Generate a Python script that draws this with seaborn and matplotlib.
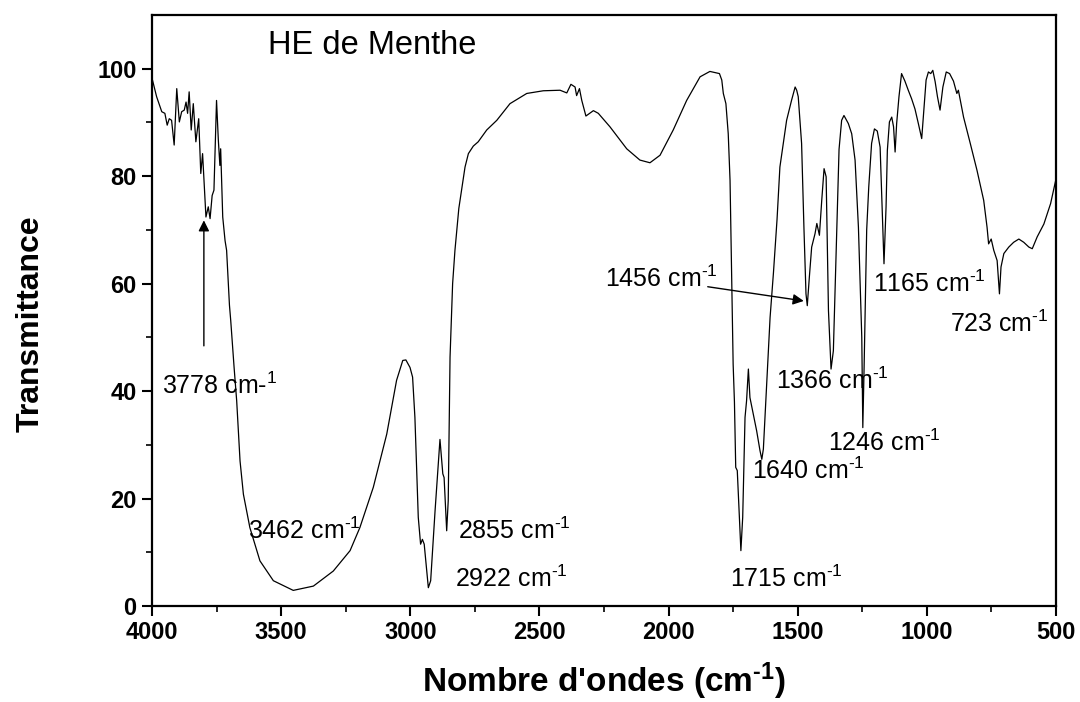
import matplotlib
matplotlib.use("Agg")
import matplotlib.pyplot as plt
import seaborn as sns
import pandas as pd

wavenumber = [3998, 3982, 3962, 3950, 3941, 3933, 3924, 3914, 3904, 3894, 3885, 3875, 3868, 3862, 3856,
              3848, 3840, 3830, 3819, 3811, 3804, 3791, 3782, 3775, 3767, 3760, 3750, 3743, 3737, 3734,
              3726, 3717, 3711, 3700, 3695, 3682, 3672, 3659, 3646, 3621, 3582, 3530, 3453, 3375, 3298,
              3233, 3195, 3143, 3091, 3053, 3029, 3017, 3001, 2991, 2982, 2969, 2960, 2953, 2946, 2930,
              2921, 2904, 2885, 2874, 2869, 2859, 2853, 2846, 2836, 2827, 2812, 2788, 2775, 2756, 2737,
              2704, 2665, 2614, 2549, 2485, 2420, 2394, 2378, 2362, 2356, 2345, 2336, 2320, 2291, 2272,
              2227, 2162, 2111, 2072, 2033, 1982, 1930, 1878, 1840, 1803, 1794, 1788, 1778, 1769, 1762,
              1756, 1750, 1745, 1740, 1734, 1726, 1720, 1713, 1704, 1698, 1691, 1685, 1672, 1659, 1646,
              1639, 1633, 1620, 1607, 1594, 1580, 1569, 1543, 1524, 1510, 1504, 1498, 1485, 1476, 1468,
              1463, 1455, 1446, 1433, 1426, 1416, 1407, 1398, 1390, 1381, 1371, 1362, 1349, 1340, 1330,
              1321, 1304, 1291, 1278, 1265, 1252, 1248, 1243, 1233, 1225, 1214, 1203, 1192, 1181, 1175,
              1166, 1158, 1153, 1145, 1136, 1129, 1123, 1117, 1108, 1098, 1085, 1072, 1059, 1046, 1033,
              1020, 1011, 1003, 994, 985, 977, 968, 959, 949, 938, 925, 912, 897, 884, 878,
              858, 832, 806, 780, 767, 761, 751, 741, 728, 719, 713, 702, 683, 664, 644,
              625, 605, 592, 573, 547, 521, 500]
transmittance = [97.9, 94.8, 92.0, 91.7, 89.5, 90.7, 90.4, 85.8, 96.3, 90.1, 92.0, 92.3, 93.8, 91.7, 95.7,
                 88.6, 93.5, 86.4, 90.7, 80.5, 84.2, 72.4, 74.3, 72.1, 76.4, 77.4, 94.1, 86.7, 82.0, 85.1,
                 72.4, 68.0, 66.2, 56.0, 53.1, 44.4, 38.2, 27.0, 20.8, 14.6, 8.4, 4.7, 2.9, 3.7, 6.5,
                 10.3, 14.6, 22.1, 32.0, 42.0, 45.7, 45.8, 44.4, 42.6, 35.1, 16.5, 11.5, 12.4, 11.5, 3.4,
                 4.7, 17.7, 31.0, 24.6, 23.9, 14.0, 19.6, 46.3, 60.0, 66.2, 74.0, 81.7, 84.2, 85.6, 86.4,
                 88.6, 90.4, 93.5, 95.4, 95.9, 96.0, 95.5, 97.1, 96.6, 95.0, 96.3, 94.1, 91.2, 92.2, 91.7,
                 89.2, 85.1, 83.0, 82.5, 83.9, 88.6, 94.1, 98.5, 99.5, 99.1, 97.9, 95.4, 93.5, 87.9, 79.2,
                 62.0, 45.0, 38.0, 25.8, 25.2, 16.5, 10.3, 16.5, 35.1, 38.2, 44.1, 38.8, 35.7, 32.6, 28.9,
                 27.3, 29.2, 41.3, 53.7, 62.0, 72.0, 81.7, 90.4, 94.1, 96.6, 96.0, 94.8, 86.1, 70.5, 58.1,
                 55.9, 61.2, 66.8, 69.3, 71.2, 69.0, 75.5, 81.4, 79.9, 55.0, 44.1, 47.5, 70.0, 85.0, 90.4,
                 91.3, 89.8, 87.9, 83.0, 70.5, 50.0, 33.2, 44.4, 70.0, 78.0, 86.1, 88.8, 88.4, 85.4, 76.7,
                 63.7, 74.3, 84.8, 90.1, 91.0, 89.2, 84.5, 89.8, 94.8, 99.1, 97.7, 96.0, 94.4, 92.5, 89.8,
                 87.0, 92.9, 97.9, 99.4, 99.1, 99.7, 97.6, 94.8, 92.3, 96.6, 99.4, 99.1, 97.7, 95.4, 96.0,
                 91.0, 86.1, 81.1, 75.5, 70.5, 67.4, 68.3, 66.2, 64.3, 58.1, 63.1, 65.6, 66.8, 67.7, 68.3,
                 67.7, 66.8, 66.5, 68.7, 71.1, 74.9, 79.5]

x_ticks = [4000, 3500, 3000, 2500, 2000, 1500, 1000, 500]
y_ticks = [0, 20, 40, 60, 80, 100]

HY = "\u2010"  # hyphen used in the superscripts
peak_labels = ["3778 cm-$^{1}$", f"3462 cm$^{{{HY}1}}$", f"2922 cm$^{{{HY}1}}$", f"2855 cm$^{{{HY}1}}$",
               f"1715 cm$^{{{HY}1}}$", f"1640 cm$^{{{HY}1}}$", f"1366 cm$^{{{HY}1}}$", f"1246 cm$^{{{HY}1}}$",
               f"1165 cm$^{{{HY}1}}$", f"723 cm$^{{{HY}1}}$"]
peak_label_x = [3961, 3628, 2827, 2815, 1762, 1677, 1584, 1383, 1208, 910]
peak_label_y = [41.0, 14.0, 5.0, 14.0, 5.0, 25.2, 42.0, 30.4, 60.0, 52.5]

sns.set_style("ticks")
plt.rcParams['font.family'] = ['Liberation Sans', 'DejaVu Sans']
plt.rcParams['mathtext.default'] = 'regular'
plt.rcParams['text.color'] = 'black'
plt.rcParams['axes.labelcolor'] = 'black'
plt.rcParams['xtick.color'] = 'black'
plt.rcParams['ytick.color'] = 'black'

fig = plt.figure(figsize=(10.8, 7.02), dpi=100)
ax = fig.add_axes([0.1407, 0.1368, 0.8371, 0.8418])

df = pd.DataFrame({"wn": wavenumber, "T": transmittance})
sns.lineplot(data=df, x="wn", y="T", ax=ax, color="black", linewidth=0.9,
             sort=False, estimator=None)

ax.set_xlim(4000, 500)
ax.set_ylim(0, 110)
ax.set_xticks(x_ticks)
ax.set_yticks(y_ticks)
ax.set_xticks([3750, 3250, 2750, 2250, 1750, 1250, 750], minor=True)
ax.set_yticks([10, 30, 50, 70, 90], minor=True)
ax.tick_params(axis='both', which='major', direction='out', length=7, width=1.5,
               labelsize=17, top=False, right=False, colors='black', pad=4)
ax.tick_params(axis='both', which='minor', direction='out', length=4, width=1.2,
               top=False, right=False)
for lab in ax.get_xticklabels() + ax.get_yticklabels():
    lab.set_fontweight('bold')
for sp in ax.spines.values():
    sp.set_linewidth(1.6)
    sp.set_color('black')
    sp.set_visible(True)

ax.set_xlabel(f"Nombre d'ondes (cm$^{{{HY}1}}$)", fontsize=24, fontweight='bold', labelpad=12)
ax.set_ylabel("Transmittance", fontsize=23, fontweight='bold')
ax.yaxis.set_label_coords(-0.118, 0.477)

ax.text(3551, 104.4, "HE de Menthe", fontsize=23.5, ha='left', va='center')

for t, xx, yy in zip(peak_labels, peak_label_x, peak_label_y):
    ax.text(xx, yy, t, fontsize=18, ha='left', va='center')

ax.annotate("", xy=(3799, 72.3), xytext=(3799, 47.9),
            arrowprops=dict(arrowstyle='-|>', color='black', lw=1, mutation_scale=16))
ax.text(2246, 60.9, f"1456 cm$^{{{HY}1}}$", fontsize=18, ha='left', va='center')
ax.annotate("", xy=(1466, 56.7), xytext=(1859, 59.5),
            arrowprops=dict(arrowstyle='-|>', color='black', lw=1, mutation_scale=16))

fig.savefig("out.png", dpi=100)
